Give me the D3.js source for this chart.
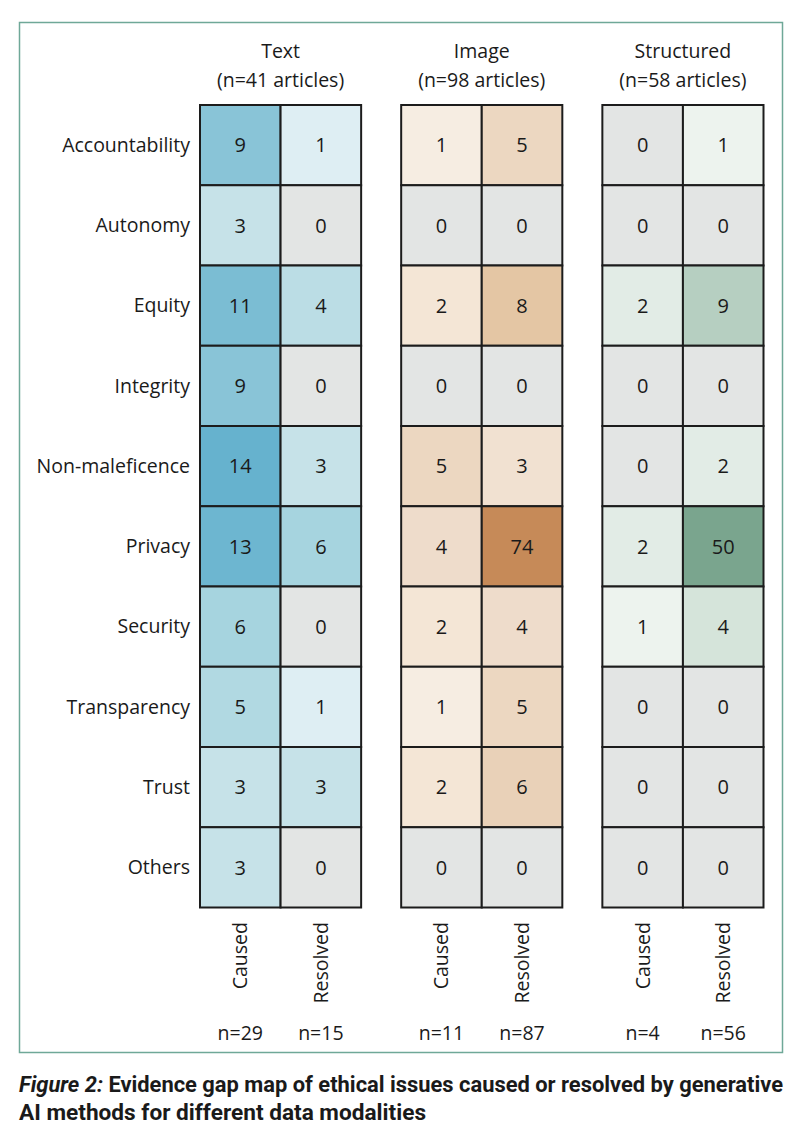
<!DOCTYPE html>
<html><head><meta charset="utf-8">
<script src="https://cdn.jsdelivr.net/npm/d3@7"></script>
<style>body{margin:0;background:#fff}svg{display:block}</style>
</head><body>
<svg id="chart" width="804" height="1130"></svg>
<script>
const issues = ["Accountability","Autonomy","Equity","Integrity","Non-maleficence","Privacy","Security","Transparency","Trust","Others"];
const modalities = ["Text","Image","Structured"];
const articleCounts = [41, 98, 58];
const roles = ["Caused","Resolved"];
const textCaused = [9,3,11,9,14,13,6,5,3,3];
const textResolved = [1,0,4,0,3,6,0,1,3,0];
const imageCaused = [1,0,2,0,5,4,2,1,2,0];
const imageResolved = [5,0,8,0,3,74,4,5,6,0];
const structCaused = [0,0,2,0,0,2,1,0,0,0];
const structResolved = [1,0,9,0,2,50,4,0,0,0];
const totals = [[29,15],[11,87],[4,56]];

const values = [[textCaused,textResolved],[imageCaused,imageResolved],[structCaused,structResolved]];

const svg = d3.select("#chart");
const FONT = "'Open Sans','Noto Sans',sans-serif";
const zeroColor = "#e3e5e4";
const colorScales = [
  d3.scaleLinear().domain([1,3,6,9,14]).range(["#deeef3","#c6e2e8","#a6d4df","#89c4d7","#66b2ce"]).clamp(true),
  d3.scaleLinear().domain([1,2,4,8,74]).range(["#f6ede2","#f4e6d6","#eedccb","#e4c6a4","#c68a58"]).clamp(true),
  d3.scaleLinear().domain([1,2,4,9,50]).range(["#edf3ee","#e2ece6","#d5e4da","#b6cfc1","#7aa58e"]).clamp(true)
];

// frame
svg.append("rect").attr("x",19.5).attr("y",22.5).attr("width",763).attr("height",1030)
  .attr("fill","none").attr("stroke","#6fa898").attr("stroke-width",1.5);

const panelX = d3.scaleBand().domain(modalities).range([200, 763.5]).paddingInner(40/201).paddingOuter(0);
const y = d3.scaleBand().domain(issues).range([105, 907.5]);

// row labels
svg.append("g").selectAll("text").data(issues).join("text")
  .attr("x",190).attr("y",d=>y(d)+y.bandwidth()/2).attr("dy","0.35em")
  .attr("text-anchor","end").attr("font-family",FONT).attr("font-size",19.5).attr("fill","#1a1a1a")
  .text(d=>d);

modalities.forEach((m,mi)=>{
  const x0 = panelX(m);
  const x = d3.scaleBand().domain(roles).range([x0, x0+panelX.bandwidth()]);
  const g = svg.append("g");
  const cx = x0 + panelX.bandwidth()/2;
  g.append("text").attr("x",cx).attr("y",58).attr("text-anchor","middle")
    .attr("font-family",FONT).attr("font-size",19.5).attr("fill","#1a1a1a").text(m);
  g.append("text").attr("x",cx).attr("y",87).attr("text-anchor","middle")
    .attr("font-family",FONT).attr("font-size",19.5).attr("fill","#1a1a1a").text(`(n=${articleCounts[mi]} articles)`);
  const cells = [];
  roles.forEach((r,ri)=>issues.forEach((iss,ii)=>cells.push({r,iss,v:values[mi][ri][ii]})));
  g.selectAll("rect.cell").data(cells).join("rect").attr("class","cell")
    .attr("x",d=>x(d.r)).attr("y",d=>y(d.iss)).attr("width",x.bandwidth()).attr("height",y.bandwidth())
    .attr("fill",d=>d.v===0?zeroColor:colorScales[mi](d.v))
    .attr("stroke","#1c1c1c").attr("stroke-width",2);
  g.selectAll("text.val").data(cells).join("text").attr("class","val")
    .attr("x",d=>x(d.r)+x.bandwidth()/2).attr("y",d=>y(d.iss)+y.bandwidth()/2).attr("dy","0.36em")
    .attr("text-anchor","middle").attr("font-family",FONT).attr("font-size",20).attr("fill","#1a1a1a")
    .text(d=>d.v);
  g.selectAll("text.role").data(roles).join("text").attr("class","role")
    .attr("transform",d=>`translate(${x(d)+x.bandwidth()/2+7},922) rotate(-90)`)
    .attr("text-anchor","end").attr("font-family",FONT).attr("font-size",19.5).attr("fill","#1a1a1a")
    .text(d=>d);
  g.selectAll("text.tot").data(roles).join("text").attr("class","tot")
    .attr("x",d=>x(d)+x.bandwidth()/2).attr("y",1040).attr("text-anchor","middle")
    .attr("font-family",FONT).attr("font-size",19.5).attr("fill","#1a1a1a")
    .text((d,i)=>`n=${totals[mi][i]}`);
});

// caption
const CAP = "'Liberation Sans Narrow','Roboto','Open Sans',sans-serif";
const c1 = svg.append("text").attr("x",19).attr("y",1092).attr("font-family",CAP)
  .attr("font-size",22).attr("font-weight","bold").attr("fill","#1a1a1a")
  .attr("textLength",764).attr("lengthAdjust","spacingAndGlyphs");
c1.append("tspan").attr("font-style","italic").text("Figure 2: ");
c1.append("tspan").text("Evidence gap map of ethical issues caused or resolved by generative");
svg.append("text").attr("x",19).attr("y",1120).attr("font-family",CAP)
  .attr("font-size",22).attr("font-weight","bold").attr("fill","#1a1a1a")
  .attr("textLength",407).attr("lengthAdjust","spacingAndGlyphs")
  .text("AI methods for different data modalities");
</script>
</body></html>
